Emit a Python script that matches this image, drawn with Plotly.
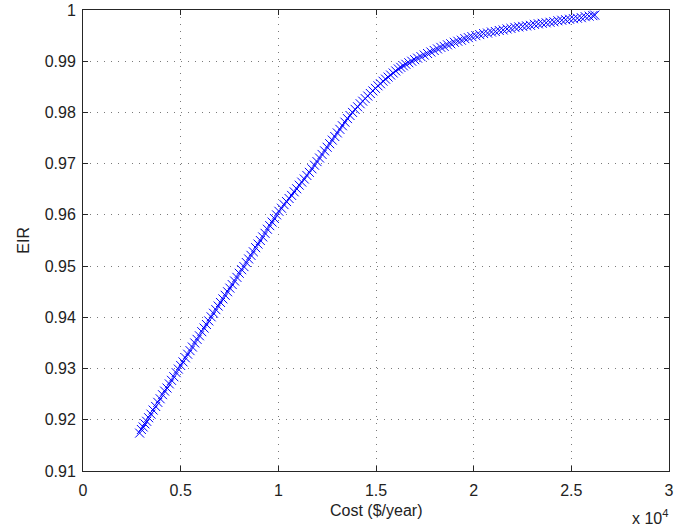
import plotly.graph_objects as go

# Cost in $/year and EIR values
cost = [2900, 2990, 3080, 3170, 3260,
        3360, 3480, 3590, 3720, 3830, 3950, 4070, 4180, 4300, 4420, 4530, 4650, 4770, 4880,
        5000, 5120, 5240, 5360, 5480, 5600, 5720, 5840, 5960, 6080, 6200, 6320, 6440, 6560,
        6680, 6800, 6920, 7040, 7160, 7280, 7400, 7520, 7640, 7760, 7880, 8000, 8120, 8240,
        8360, 8480, 8600, 8720, 8840, 8960, 9080, 9200, 9320, 9440, 9560, 9680, 9800, 9910,
        10030, 10160, 10290, 10420, 10550, 10680, 10810, 10940, 11070, 11200, 11330, 11460, 11590, 11720, 11850,
        11980, 12110, 12240, 12370, 12500, 12630, 12760, 12890, 13020, 13150, 13280, 13410, 13540, 13670,
        13800, 13930, 14060, 14190, 14320, 14450, 14580, 14710, 14840, 14970,
        15100, 15230, 15360, 15490, 15620, 15750, 15880, 16010, 16140, 16270, 16400, 16530,
        16680, 16830, 16980, 17130,
        17300, 17470, 17640, 17810, 17980, 18150, 18320, 18490, 18660, 18830,
        19010, 19190, 19370, 19550, 19730, 19910,
        20110, 20310, 20510, 20710, 20910, 21110, 21310, 21510, 21710, 21910, 22110,
        22310, 22510, 22710, 22910, 23110, 23310, 23510, 23710, 23910, 24110, 24310, 24510, 24710, 24910,
        25110, 25310, 25510, 25710, 25910, 26100, 26200]

eir = [0.9174, 0.9181, 0.9186, 0.9192, 0.9197,
       0.9204, 0.9211, 0.9219, 0.9226, 0.9234, 0.9241, 0.9249, 0.9256, 0.9262, 0.9270, 0.9277, 0.9284, 0.9292, 0.9299,
       0.9306, 0.9313, 0.9321, 0.9328, 0.9335, 0.9342, 0.9350, 0.9357, 0.9364, 0.9372, 0.9379, 0.9386, 0.9393, 0.9401,
       0.9408, 0.9415, 0.9422, 0.9429, 0.9436, 0.9443, 0.9450, 0.9457, 0.9464, 0.9471, 0.9478, 0.9486, 0.9493, 0.9499,
       0.9507, 0.9514, 0.9521, 0.9528, 0.9536, 0.9543, 0.9550, 0.9557, 0.9564, 0.9572, 0.9579, 0.9586, 0.9593, 0.9600,
       0.9607, 0.9613, 0.9620, 0.9626, 0.9632, 0.9638, 0.9645, 0.9651, 0.9658, 0.9664, 0.9670, 0.9677, 0.9683, 0.9690, 0.9697,
       0.9704, 0.9711, 0.9718, 0.9725, 0.9732, 0.9739, 0.9746, 0.9753, 0.9760, 0.9767, 0.9774, 0.9781, 0.9788, 0.9794,
       0.9800, 0.9806, 0.9811, 0.9817, 0.9822, 0.9827, 0.9832, 0.9837, 0.9842, 0.9847,
       0.9852, 0.9856, 0.9861, 0.9865, 0.9869, 0.9873, 0.9877, 0.9881, 0.9885, 0.9888, 0.9891, 0.9894,
       0.9897, 0.9900, 0.9903, 0.9906,
       0.9909, 0.9912, 0.9915, 0.9918, 0.9921, 0.9924, 0.9927, 0.9929, 0.9932, 0.9934,
       0.9937, 0.9939, 0.9941, 0.9944, 0.9946, 0.9948,
       0.9950, 0.9952, 0.9954, 0.9955, 0.9957, 0.9958, 0.9960, 0.9961, 0.9963, 0.9964, 0.9966,
       0.9967, 0.9968, 0.9969, 0.9970, 0.9972, 0.9973, 0.9974, 0.9975, 0.9976, 0.9977, 0.9979, 0.9980, 0.9981, 0.9982,
       0.9983, 0.9984, 0.9985, 0.9987, 0.9988, 0.9989, 0.9990]

x_tick_vals = [0, 5000, 10000, 15000, 20000, 25000, 30000]
x_tick_text = ["0", "0.5", "1", "1.5", "2", "2.5", "3"]
y_tick_vals = [0.91, 0.92, 0.93, 0.94, 0.95, 0.96, 0.97, 0.98, 0.99, 1.0]
y_tick_text = ["0.91", "0.92", "0.93", "0.94", "0.95", "0.96", "0.97", "0.98", "0.99", "1"]

FONT = "Liberation Sans, Arial, sans-serif"
TXT = "#222222"

fig = go.Figure()
fig.add_trace(go.Scatter(
    x=cost, y=eir, mode="markers",
    marker=dict(symbol="x-thin", size=9, color="#0000ff",
                line=dict(width=1, color="#0000ff")),
    showlegend=False,
))

axis_common = dict(
    showline=True, linecolor="#262626", linewidth=1, mirror="ticks",
    ticks="inside", ticklen=5, tickcolor="#262626", tickwidth=1,
    showgrid=True, gridcolor="#7a7a7a", gridwidth=1, griddash="1px,6px",
    zeroline=False, automargin=False,
    tickfont=dict(family=FONT, size=16, color=TXT),
)

fig.update_xaxes(
    range=[0, 30000], tickmode="array", tickvals=x_tick_vals, ticktext=x_tick_text,
    ticklabelstandoff=5,
    **axis_common,
)
fig.update_yaxes(
    range=[0.91, 1.0], tickmode="array", tickvals=y_tick_vals, ticktext=y_tick_text,
    ticklabelstandoff=3,
    **axis_common,
)

# Axis titles and exponent label
fig.add_annotation(
    text="Cost ($/year)", xref="paper", yref="paper", x=0.5, y=-0.085,
    xanchor="center", yanchor="middle", showarrow=False,
    font=dict(family=FONT, size=16, color=TXT),
)
fig.add_annotation(
    text="EIR", xref="paper", yref="paper", x=-0.102, y=0.5, textangle=-90,
    xanchor="center", yanchor="middle", showarrow=False,
    font=dict(family=FONT, size=16, color=TXT),
)
fig.add_annotation(
    text="x 10<sup>4</sup>", xref="paper", yref="paper", x=0.9676, y=-0.1,
    xanchor="center", yanchor="middle", showarrow=False,
    font=dict(family=FONT, size=16, color=TXT),
)

fig.update_layout(
    width=695, height=531,
    margin=dict(l=83, r=26, t=10, b=60),
    paper_bgcolor="white", plot_bgcolor="white",
    font=dict(family=FONT),
)

# Remove the default 8px page margin so the figure fills the window exactly.
fig.write_html(
    "out.html",
    config={"displayModeBar": False},
    post_script="document.body.style.margin='0px';document.body.style.overflow='hidden';",
)
